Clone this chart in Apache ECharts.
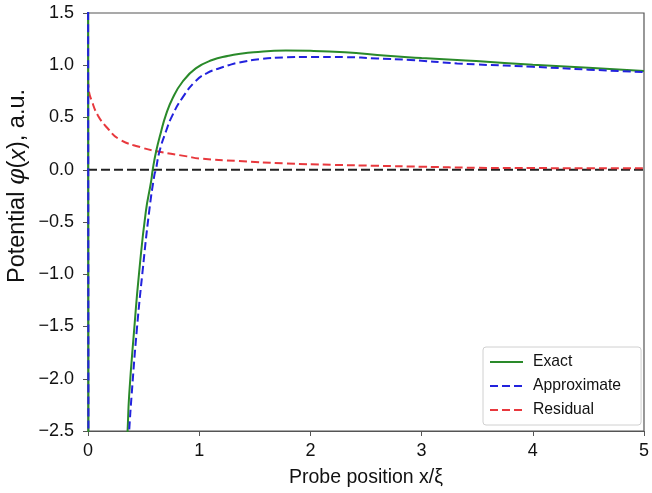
<!DOCTYPE html>
<html>
<head>
<meta charset="utf-8">
<script src="https://cdn.jsdelivr.net/npm/echarts@6/dist/echarts.min.js"></script>
<style>html,body{margin:0;padding:0;background:#fff}#c{width:652px;height:493px}</style>
</head>
<body>
<div id="c"></div>
<script>
// Exact potential (x, phi)
const exactData = [
  [0, 3.0], [0.004, -3.0], [0.2, '-'],
  [0.35, -2.6], [0.356, -2.5], [0.37, -2.16], [0.416, -1.52], [0.46, -0.98], [0.52, -0.40],
  [0.567, -0.115], [0.582, 0.0], [0.612, 0.172], [0.657, 0.364], [0.70, 0.523], [0.76, 0.682],
  [0.85, 0.842], [0.969, 0.97], [1.117, 1.05], [1.265, 1.09], [1.355, 1.108], [1.49, 1.125],
  [1.78, 1.14], [2.0, 1.138], [2.31, 1.125], [2.69, 1.09], [3.0, 1.07], [3.32, 1.05],
  [3.49, 1.04], [4.0, 1.005], [4.5, 0.975], [5.0, 0.945]
];
// Approximate potential
const approxData = [
  [0, 3.0], [0.004, -3.0], [0.2, '-'],
  [0.365, -2.6], [0.37, -2.5], [0.392, -2.16], [0.44, -1.52], [0.49, -0.98], [0.55, -0.40],
  [0.597, -0.05], [0.61, 0.0], [0.642, 0.172], [0.70, 0.364], [0.76, 0.523], [0.85, 0.69],
  [0.969, 0.85], [1.07, 0.925], [1.17, 0.967], [1.265, 1.0], [1.355, 1.025], [1.545, 1.058],
  [1.78, 1.075], [2.0, 1.08], [2.31, 1.078], [2.6, 1.065], [2.9, 1.05], [3.32, 1.017],
  [3.49, 1.008], [4.0, 0.985], [4.5, 0.958], [5.0, 0.935]
];
// Residual
const residualData = [
  [0, 0.86], [0.01, 0.74], [0.03, 0.67], [0.089, 0.52], [0.178, 0.395], [0.285, 0.29],
  [0.475, 0.215], [0.642, 0.172], [0.89, 0.128], [1.0, 0.108], [1.355, 0.083], [1.78, 0.06],
  [2.2, 0.047], [2.6, 0.038], [3.0, 0.029], [3.49, 0.019], [4.0, 0.016], [4.5, 0.015],
  [5.0, 0.014]
];
const zeroData = [[0, 0], [5, 0]];
const xTicks = [0, 1, 2, 3, 4, 5];
const yTicks = [-2.5, -2.0, -1.5, -1.0, -0.5, 0.0, 0.5, 1.0, 1.5];

const FONT = 'Liberation Sans';
const chart = echarts.init(document.getElementById('c'), null, {renderer: 'canvas'});
chart.setOption({
  animation: false,
  backgroundColor: '#fff',
  textStyle: {fontFamily: FONT},
  grid: {left: 88, right: 3, top: 13, bottom: 61, show: true, borderColor: '#555', borderWidth: 1.2},
  legend: {
    data: ['Exact', 'Approximate', 'Residual'],
    orient: 'vertical',
    left: 483, top: 347,
    itemWidth: 33, itemHeight: 14, itemGap: 8,
    padding: [7, 20, 7, 6],
    borderColor: '#d0d0d0', borderWidth: 1, borderRadius: 3,
    backgroundColor: 'rgba(255,255,255,0.85)',
    itemStyle: {opacity: 0},
    textStyle: {fontFamily: FONT, fontSize: 15.7, color: '#111', padding: [0, 0, 0, 5]}
  },
  graphic: [{
    type: 'text', x: 18, y: 186, rotation: Math.PI / 2,
    style: {
      text: '{n|Potential }{g|φ}{n|(}{i|x}{n|), a.u.}',
      align: 'center', verticalAlign: 'middle',
      rich: {n: {fontFamily: FONT, fontSize: 23.5, fill: '#111'},
             g: {fontFamily: 'DejaVu Serif', fontStyle: 'italic', fontSize: 23.5, fill: '#111'},
             i: {fontFamily: FONT, fontStyle: 'italic', fontSize: 23.5, fill: '#111'}}
    }
  }],
  xAxis: {
    type: 'value', min: xTicks[0], max: xTicks[xTicks.length - 1], interval: 1,
    name: 'Probe position x/ξ', nameLocation: 'middle', nameGap: 37,
    nameTextStyle: {fontFamily: FONT, fontSize: 19.5, color: '#111'},
    axisLine: {show: true, onZero: false, lineStyle: {color: '#555', width: 1.2}},
    axisTick: {show: true, inside: false, length: 5, lineStyle: {color: '#555'}},
    axisLabel: {fontFamily: FONT, fontSize: 18, color: '#111', margin: 11},
    splitLine: {show: false}
  },
  yAxis: {
    type: 'value', min: yTicks[0], max: yTicks[yTicks.length - 1], interval: 0.5,
    axisLine: {show: true, onZero: false, lineStyle: {color: '#555', width: 1.2}},
    axisTick: {show: true, inside: false, length: 5, lineStyle: {color: '#555'}},
    axisLabel: {fontFamily: FONT, fontSize: 18, color: '#111', margin: 14,
      formatter: v => (v < 0 ? '\u2212' : '') + Math.abs(v).toFixed(1)},
    splitLine: {show: false}
  },
  series: [
    {name: 'Zero', type: 'line', data: zeroData, symbol: 'none', silent: true,
     lineStyle: {color: '#222', width: 2, type: [9, 4]}, z: 1},
    {name: 'Residual', type: 'line', data: residualData, symbol: 'none', smooth: 0.5, clip: true,
     color: '#e8383d', lineStyle: {color: '#e8383d', width: 2, type: [8, 4]}, z: 2},
    {name: 'Exact', type: 'line', data: exactData, symbol: 'none', smooth: 0.5, clip: true,
     color: '#2a8a2a', lineStyle: {color: '#2a8a2a', width: 2}, z: 3},
    {name: 'Approximate', type: 'line', data: approxData, symbol: 'none', smooth: 0.5, clip: true,
     color: '#2222dd', lineStyle: {color: '#2222dd', width: 2, type: [8, 4]}, z: 4}
  ]
});
</script>
</body>
</html>
